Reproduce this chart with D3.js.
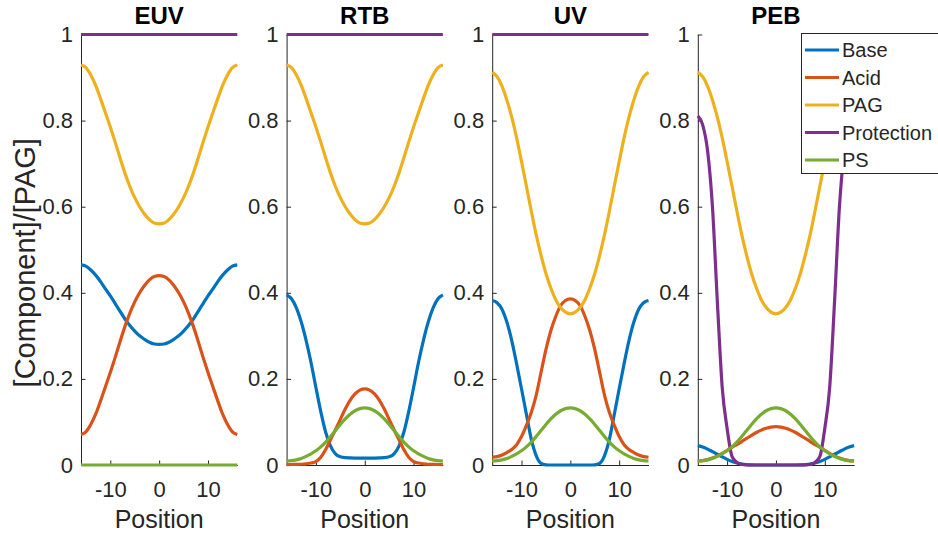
<!DOCTYPE html>
<html>
<head>
<meta charset="utf-8">
<script src="https://cdn.jsdelivr.net/npm/d3@7"></script>
<style>
  body { margin: 0; background: #fff; }
  svg { display: block; font-family: "Liberation Sans", Arial, Helvetica, sans-serif; }
</style>
</head>
<body>
<svg id="chart" width="938" height="535"></svg>
<script>
// x grid shared by every series
const positions = [-16, -15, -14, -13, -12, -11, -10, -9, -8, -7, -6, -5, -4, -3, -2, -1, 0,
  1, 2, 3, 4, 5, 6, 7, 8, 9, 10, 11, 12, 13, 14, 15, 16];

const titles = ["EUV", "RTB", "UV", "PEB"];
const seriesNames = ["Base", "Acid", "PAG", "Protection", "PS"];
const seriesColors = ["#0072BD", "#D95319", "#EDB120", "#7E2F8E", "#77AC30"];
const yTicks = [0, 0.2, 0.4, 0.6, 0.8, 1];
const xTicks = [-10, 0, 10];

// EUV
const euvBase = [0.465, 0.462, 0.453, 0.441, 0.426, 0.409, 0.393, 0.375, 0.357, 0.339, 0.324, 0.311, 0.300, 0.292, 0.285, 0.281, 0.280,
  0.281, 0.285, 0.292, 0.300, 0.311, 0.324, 0.339, 0.357, 0.375, 0.393, 0.409, 0.426, 0.441, 0.453, 0.462, 0.465];
const euvAcid = [0.071, 0.077, 0.094, 0.118, 0.149, 0.182, 0.215, 0.250, 0.287, 0.322, 0.353, 0.379, 0.400, 0.417, 0.430, 0.438, 0.440,
  0.438, 0.430, 0.417, 0.400, 0.379, 0.353, 0.322, 0.287, 0.250, 0.215, 0.182, 0.149, 0.118, 0.094, 0.077, 0.071];
const euvPag = [0.929, 0.923, 0.906, 0.882, 0.851, 0.818, 0.785, 0.750, 0.713, 0.678, 0.647, 0.621, 0.600, 0.583, 0.570, 0.562, 0.560,
  0.562, 0.570, 0.583, 0.600, 0.621, 0.647, 0.678, 0.713, 0.750, 0.785, 0.818, 0.851, 0.882, 0.906, 0.923, 0.929];
const euvProtection = [1, 1, 1, 1, 1, 1, 1, 1, 1, 1, 1, 1, 1, 1, 1, 1, 1,
  1, 1, 1, 1, 1, 1, 1, 1, 1, 1, 1, 1, 1, 1, 1, 1];
const euvPs = [0, 0, 0, 0, 0, 0, 0, 0, 0, 0, 0, 0, 0, 0, 0, 0, 0,
  0, 0, 0, 0, 0, 0, 0, 0, 0, 0, 0, 0, 0, 0, 0, 0];

// RTB
const rtbBase = [0.395, 0.386, 0.365, 0.332, 0.289, 0.238, 0.180, 0.124, 0.076, 0.044, 0.026, 0.019, 0.017, 0.0165, 0.0162, 0.016, 0.016,
  0.016, 0.0162, 0.0165, 0.017, 0.019, 0.026, 0.044, 0.076, 0.124, 0.180, 0.238, 0.289, 0.332, 0.365, 0.386, 0.395];
const rtbAcid = [0.0011, 0.0012, 0.0014, 0.0018, 0.0028, 0.0045, 0.008, 0.018, 0.036, 0.059, 0.082, 0.106, 0.130, 0.150, 0.165, 0.174, 0.177,
  0.174, 0.165, 0.150, 0.130, 0.106, 0.082, 0.059, 0.036, 0.018, 0.008, 0.0045, 0.0028, 0.0018, 0.0014, 0.0012, 0.0011];
const rtbPag = [0.929, 0.923, 0.906, 0.882, 0.851, 0.818, 0.785, 0.750, 0.713, 0.678, 0.647, 0.621, 0.600, 0.583, 0.570, 0.562, 0.560,
  0.562, 0.570, 0.583, 0.600, 0.621, 0.647, 0.678, 0.713, 0.750, 0.785, 0.818, 0.851, 0.882, 0.906, 0.923, 0.929];
const rtbProtection = [1, 1, 1, 1, 1, 1, 1, 1, 1, 1, 1, 1, 1, 1, 1, 1, 1,
  1, 1, 1, 1, 1, 1, 1, 1, 1, 1, 1, 1, 1, 1, 1, 1];
const rtbPs = [0.0093, 0.010, 0.012, 0.015, 0.020, 0.026, 0.033, 0.042, 0.053, 0.066, 0.080, 0.094, 0.107, 0.118, 0.126, 0.131, 0.1326,
  0.131, 0.126, 0.118, 0.107, 0.094, 0.080, 0.066, 0.053, 0.042, 0.033, 0.026, 0.020, 0.015, 0.012, 0.010, 0.0093];

// UV
const uvBase = [0.382, 0.377, 0.362, 0.332, 0.289, 0.235, 0.177, 0.118, 0.060, 0.022, 0.004, 0.0005, 0, 0, 0, 0, 0,
  0, 0, 0, 0, 0.0005, 0.004, 0.022, 0.060, 0.118, 0.177, 0.235, 0.289, 0.332, 0.362, 0.377, 0.382];
const uvAcid = [0.018, 0.0195, 0.023, 0.029, 0.036, 0.047, 0.066, 0.092, 0.122, 0.162, 0.215, 0.268, 0.312, 0.345, 0.370, 0.382, 0.386,
  0.382, 0.370, 0.345, 0.312, 0.268, 0.215, 0.162, 0.122, 0.092, 0.066, 0.047, 0.036, 0.029, 0.023, 0.0195, 0.018];
const uvPag = [0.912, 0.902, 0.880, 0.848, 0.808, 0.760, 0.705, 0.648, 0.590, 0.535, 0.487, 0.445, 0.411, 0.384, 0.366, 0.355, 0.351,
  0.355, 0.366, 0.384, 0.411, 0.445, 0.487, 0.535, 0.590, 0.648, 0.705, 0.760, 0.808, 0.848, 0.880, 0.902, 0.912];
const uvProtection = [1, 1, 1, 1, 1, 1, 1, 1, 1, 1, 1, 1, 1, 1, 1, 1, 1,
  1, 1, 1, 1, 1, 1, 1, 1, 1, 1, 1, 1, 1, 1, 1, 1];
const uvPs = [0.0093, 0.010, 0.012, 0.015, 0.020, 0.026, 0.033, 0.042, 0.053, 0.066, 0.080, 0.094, 0.107, 0.118, 0.126, 0.131, 0.1326,
  0.131, 0.126, 0.118, 0.107, 0.094, 0.080, 0.066, 0.053, 0.042, 0.033, 0.026, 0.020, 0.015, 0.012, 0.010, 0.0093];

// PEB
const pebBase = [0.045, 0.042, 0.037, 0.031, 0.025, 0.019, 0.013, 0.008, 0.0045, 0.002, 0.0008, 0.0002, 0, 0, 0, 0, 0,
  0, 0, 0, 0, 0.0002, 0.0008, 0.002, 0.0045, 0.008, 0.013, 0.019, 0.025, 0.031, 0.037, 0.042, 0.045];
const pebAcid = [0.0095, 0.0102, 0.0125, 0.016, 0.021, 0.027, 0.034, 0.041, 0.0475, 0.0545, 0.0618, 0.069, 0.0755, 0.081, 0.0852, 0.088, 0.089,
  0.088, 0.0852, 0.081, 0.0755, 0.069, 0.0618, 0.0545, 0.0475, 0.041, 0.034, 0.027, 0.021, 0.016, 0.0125, 0.0102, 0.0095];
const pebPag = [0.912, 0.902, 0.880, 0.848, 0.808, 0.760, 0.705, 0.648, 0.590, 0.535, 0.487, 0.445, 0.411, 0.384, 0.366, 0.355, 0.351,
  0.355, 0.366, 0.384, 0.411, 0.445, 0.487, 0.535, 0.590, 0.648, 0.705, 0.760, 0.808, 0.848, 0.880, 0.902, 0.912];
const pebProtection = [0.811, 0.790, 0.730, 0.600, 0.380, 0.180, 0.085, 0.020, 0.006, 0.0015, 0.0003, 0, 0, 0, 0, 0, 0,
  0, 0, 0, 0, 0, 0.0003, 0.0015, 0.006, 0.020, 0.085, 0.180, 0.380, 0.600, 0.730, 0.790, 0.811];
const pebPs = [0.0093, 0.010, 0.012, 0.015, 0.020, 0.026, 0.033, 0.042, 0.053, 0.066, 0.080, 0.094, 0.107, 0.118, 0.126, 0.131, 0.1326,
  0.131, 0.126, 0.118, 0.107, 0.094, 0.080, 0.066, 0.053, 0.042, 0.033, 0.026, 0.020, 0.015, 0.012, 0.010, 0.0093];

const panelSeries = [
  [euvBase, euvAcid, euvPag, euvProtection, euvPs],
  [rtbBase, rtbAcid, rtbPag, rtbProtection, rtbPs],
  [uvBase, uvAcid, uvPag, uvProtection, uvPs],
  [pebBase, pebAcid, pebPag, pebProtection, pebPs]
];

const svg = d3.select("#chart");
const axisColor = "#262626";

// subplot geometry (MATLAB style, box off)
const plotTop = 34.5, plotBottom = 465;
const plotWidth = 156.3, plotStep = 205.6, firstLeft = 81;

const y = d3.scaleLinear().domain([0, 1]).range([plotBottom, plotTop]);

titles.forEach((title, i) => {
  const left = firstLeft + i * plotStep;
  const x = d3.scaleLinear().domain([-16, 16]).range([left, left + plotWidth]);
  const g = svg.append("g");

  // axes first, curves on top
  const yAxis = g.append("g")
    .attr("transform", `translate(${left},0)`)
    .call(d3.axisLeft(y).tickValues(yTicks).tickFormat(d => String(d))
      .tickSizeInner(-4.5).tickSizeOuter(0).tickPadding(8));
  const xAxis = g.append("g")
    .attr("transform", `translate(0,${plotBottom})`)
    .call(d3.axisBottom(x).tickValues(xTicks).tickFormat(d => String(d))
      .tickSizeInner(-4.5).tickSizeOuter(0).tickPadding(16));

  [yAxis, xAxis].forEach(a => {
    a.select(".domain").attr("stroke", axisColor).attr("stroke-width", 1);
    a.selectAll(".tick line").attr("stroke", axisColor).attr("stroke-width", 1);
    a.selectAll(".tick text").attr("fill", axisColor)
      .style("font-size", "22px");
  });

  const line = d3.line()
    .x((d, k) => x(positions[k]))
    .y(d => y(d))
    .curve(d3.curveMonotoneX);

  panelSeries[i].forEach((vals, s) => {
    g.append("path")
      .datum(vals)
      .attr("d", line)
      .attr("fill", "none")
      .attr("stroke", seriesColors[s])
      .attr("stroke-width", 3.2)
      .attr("stroke-linejoin", "round");
  });

  // title + x label
  g.append("text")
    .attr("x", left + plotWidth / 2)
    .attr("y", 24)
    .attr("text-anchor", "middle")
    .style("font-size", "24px")
    .style("font-weight", "bold")
    .attr("fill", "#000")
    .text(title);

  g.append("text")
    .attr("x", left + plotWidth / 2)
    .attr("y", 527.5)
    .attr("text-anchor", "middle")
    .style("font-size", "25px")
    .attr("fill", axisColor)
    .text("Position");
});

// shared y label on the first subplot
svg.append("text")
  .attr("transform", `translate(34.5,${(plotTop + plotBottom) / 2 + 13}) rotate(-90)`)
  .attr("text-anchor", "middle")
  .style("font-size", "29px")
  .attr("fill", axisColor)
  .text("[Component]/[PAG]");

// legend sits over the last subplot, clipped by the window on the right
const legend = svg.append("g");
legend.append("rect")
  .attr("x", 801.5).attr("y", 33.5)
  .attr("width", 150).attr("height", 140)
  .attr("fill", "#fff")
  .attr("stroke", axisColor)
  .attr("stroke-width", 1);

seriesNames.forEach((name, s) => {
  const rowY = 50 + s * 27.5;
  legend.append("line")
    .attr("x1", 805).attr("x2", 839)
    .attr("y1", rowY).attr("y2", rowY)
    .attr("stroke", seriesColors[s])
    .attr("stroke-width", 3.2);
  legend.append("text")
    .attr("x", 842)
    .attr("y", rowY + 7)
    .style("font-size", "20px")
    .attr("fill", axisColor)
    .text(name);
});
</script>
</body>
</html>
